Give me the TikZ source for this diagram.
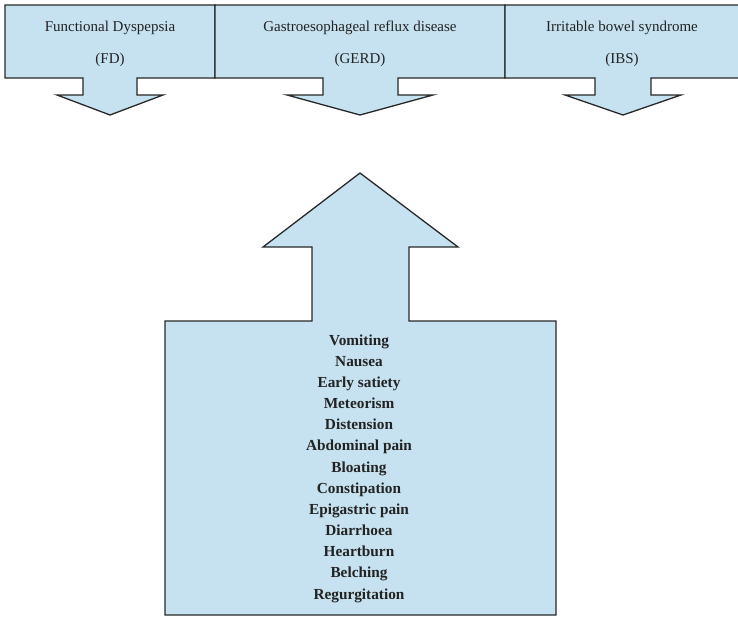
\documentclass[tikz,border=0pt]{standalone}
\usepackage{fontspec}
\setmainfont{Liberation Serif}
\definecolor{boxblue}{RGB}{198,225,239}
\definecolor{edge}{RGB}{40,40,40}
\definecolor{ink}{RGB}{35,35,35}
\begin{document}
\begin{tikzpicture}[x=1pt,y=-1pt,
  blueshape/.style={fill=boxblue,draw=edge,line width=1.3pt,line join=miter},
  title/.style={font=\fontsize{15}{18}\selectfont,text=ink,inner sep=0pt,anchor=base},
  sym/.style={font=\fontsize{15.3}{18}\selectfont\bfseries,text=ink,inner sep=0pt,anchor=base}]
\useasboundingbox (0,0) rectangle (738,616);
% top boxes with down arrows
\draw[blueshape] (5,5) -- (215,5) -- (215,78) -- (137,78) -- (137,95) -- (163,95) -- (110,115) -- (57,95) -- (83,95) -- (83,78) -- (5,78) -- cycle;
\draw[blueshape] (215,5) -- (505,5) -- (505,78) -- (398,78) -- (398,95) -- (433,95) -- (360,115) -- (287,95) -- (323,95) -- (323,78) -- (215,78) -- cycle;
\draw[blueshape] (505,5) -- (740,5) -- (740,78) -- (651,78) -- (651,95) -- (681,95) -- (623,115) -- (565,95) -- (595,95) -- (595,78) -- (505,78) -- cycle;
\node[title] (fd1) at (110,31) {Functional Dyspepsia};
\node[title] (fd2) at (110,63) {(FD)};
\node[title] (gerd1) at (360,31) {Gastroesophageal reflux disease};
\node[title] (gerd2) at (360,63) {(GERD)};
\node[title] (ibs1) at (622,31) {Irritable bowel syndrome};
\node[title] (ibs2) at (622,63) {(IBS)};
% up arrow with symptom box
\draw[blueshape] (360,173) -- (458,247) -- (409,247) -- (409,321) -- (556,321) -- (556,615) -- (165,615) -- (165,321) -- (312,321) -- (312,247) -- (263,247) -- cycle;
\foreach \t [count=\i from 0] in {Vomiting,Nausea,Early satiety,Meteorism,Distension,Abdominal pain,Bloating,Constipation,Epigastric pain,Diarrhoea,Heartburn,Belching,Regurgitation}
  \node[sym] (s\i) at (359,{345+21.17*\i}) {\t};
\end{tikzpicture}
\end{document}
